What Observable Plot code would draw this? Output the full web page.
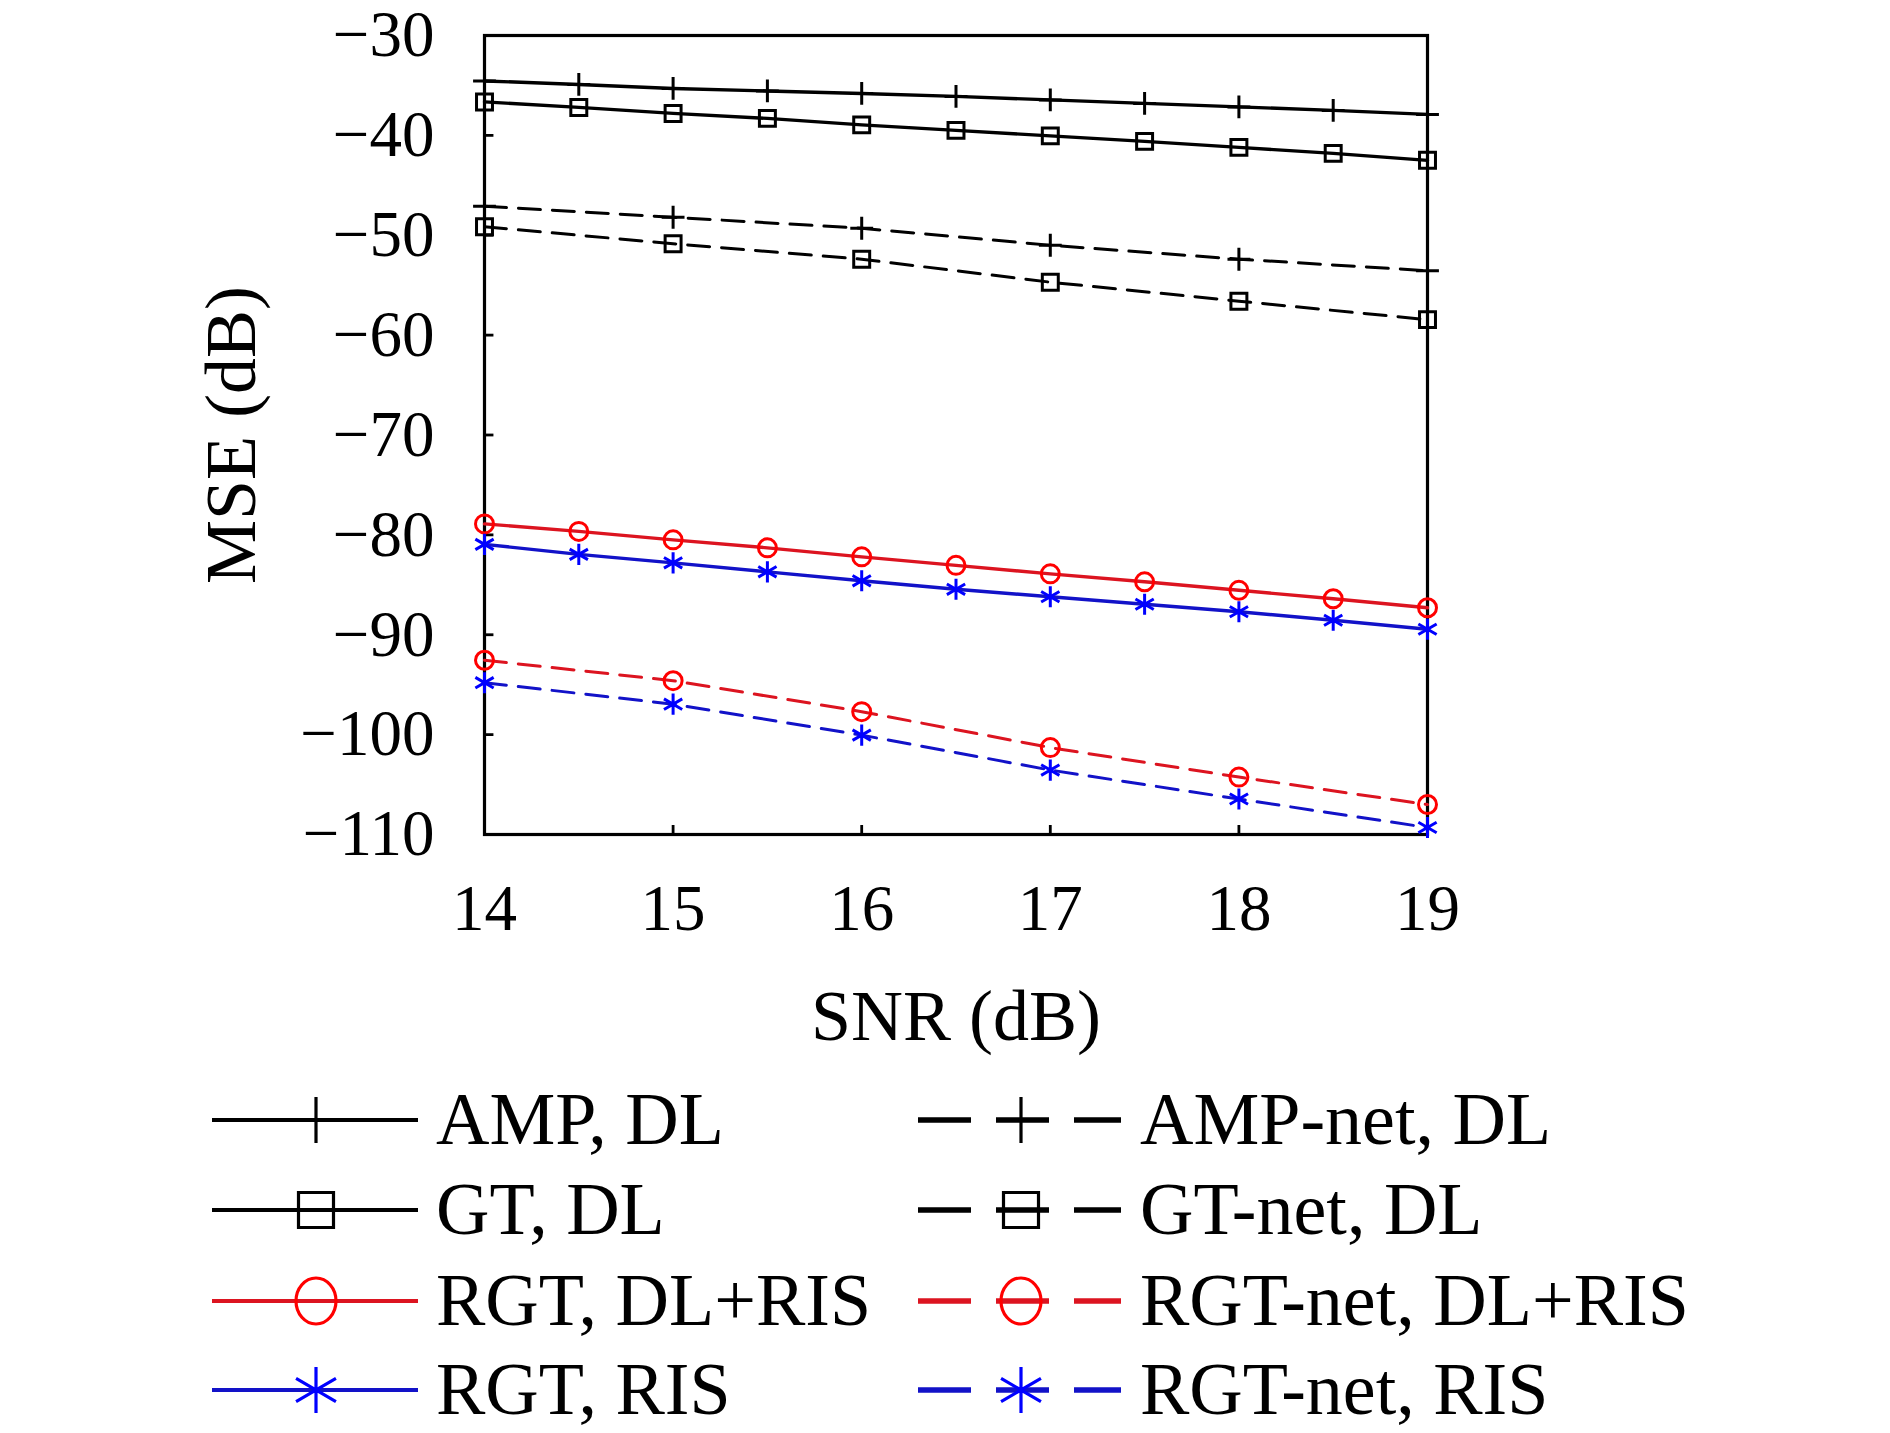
<!DOCTYPE html>
<html>
<head>
<meta charset="utf-8">
<script src="https://cdn.jsdelivr.net/npm/d3@7"></script>
<script src="https://cdn.jsdelivr.net/npm/@observablehq/plot@0.6"></script>
<style>
  html, body { margin: 0; padding: 0; background: #ffffff; }
  #chart { width: 1890px; }
  svg { display: block; }
</style>
</head>
<body>
<div id="chart"></div>
<script>
// ---- data ----
const snrFine = [14, 14.5, 15, 15.5, 16, 16.5, 17, 17.5, 18, 18.5, 19];
const snrCoarse = [14, 15, 16, 17, 18, 19];

const ampDL      = [-34.55, -34.9, -35.3, -35.55, -35.8, -36.1, -36.45, -36.8, -37.15, -37.5, -37.9];
const gtDL       = [-36.65, -37.2, -37.8, -38.3, -38.95, -39.5, -40.05, -40.6, -41.2, -41.8, -42.5];
const rgtDLRIS   = [-78.9, -79.65, -80.5, -81.3, -82.2, -83.05, -83.9, -84.7, -85.55, -86.4, -87.3];
const rgtRIS     = [-80.95, -81.95, -82.8, -83.7, -84.6, -85.45, -86.2, -86.95, -87.7, -88.55, -89.45];

const ampNetDL    = [-47.1, -48.2, -49.3, -51.0, -52.4, -53.55];
const gtNetDL     = [-49.15, -50.85, -52.4, -54.7, -56.6, -58.45];
const rgtNetDLRIS = [-92.55, -94.6, -97.7, -101.3, -104.25, -107.0];
const rgtNetRIS   = [-94.8, -96.95, -100.05, -103.55, -106.45, -109.3];

const xTicks = [14, 15, 16, 17, 18, 19];
const yTicks = [-110, -100, -90, -80, -70, -60, -50, -40, -30];

const seriesNames = ["AMP, DL", "AMP-net, DL", "GT, DL", "GT-net, DL",
                     "RGT, DL+RIS", "RGT-net, DL+RIS", "RGT, RIS", "RGT-net, RIS"];
const xLabel = "SNR (dB)";
const yLabel = "MSE (dB)";

// ---- build tables ----
const tbl = (xs, ys) => xs.map((x, i) => ({x, y: ys[i]}));

const RED_LINE = "#dc1420", RED_MK = "#ff0000";
const BLUE_LINE = "#1212c8", BLUE_MK = "#0000ff";
const DASH = "22,12";

const series = [
  {name: seriesNames[0], data: tbl(snrFine, ampDL),        line: "black",   mk: "black",   symbol: "plus",     r: 7.4, dash: null},
  {name: seriesNames[2], data: tbl(snrFine, gtDL),         line: "black",   mk: "black",   symbol: "square",   r: 9,   dash: null},
  {name: seriesNames[4], data: tbl(snrFine, rgtDLRIS),     line: RED_LINE,  mk: RED_MK,    symbol: "circle",   r: 9,   dash: null},
  {name: seriesNames[6], data: tbl(snrFine, rgtRIS),       line: BLUE_LINE, mk: BLUE_MK,   symbol: "asterisk", r: 10,  dash: null},
  {name: seriesNames[1], data: tbl(snrCoarse, ampNetDL),   line: "black",   mk: "black",   symbol: "plus",     r: 7.4, dash: DASH},
  {name: seriesNames[3], data: tbl(snrCoarse, gtNetDL),    line: "black",   mk: "black",   symbol: "square",   r: 9,   dash: DASH},
  {name: seriesNames[5], data: tbl(snrCoarse, rgtNetDLRIS),line: RED_LINE,  mk: RED_MK,    symbol: "circle",   r: 9,   dash: DASH},
  {name: seriesNames[7], data: tbl(snrCoarse, rgtNetRIS),  line: BLUE_LINE, mk: BLUE_MK,   symbol: "asterisk", r: 10,  dash: DASH}
];

const FONT = "'Liberation Serif', 'Times New Roman', serif";

const marks = [
  Plot.frame({stroke: "black", strokeWidth: 3.2}),
  Plot.ruleY(yTicks, {y: d => d, x1: 14, x2: 14.05, stroke: "black", strokeWidth: 2.8}),
  Plot.ruleX(xTicks, {x: d => d, y1: -110, y2: -109.1, stroke: "black", strokeWidth: 2.8}),
  Plot.axisY(yTicks, {anchor: "left", tickSize: 0, tickPadding: 50, fontSize: 65, label: null, fill: "black"}),
  Plot.axisX(xTicks, {anchor: "bottom", tickSize: 0, tickPadding: 49, fontSize: 65, label: null, fill: "black", tickFormat: d => String(d)}),
  Plot.text([xLabel], {text: d => d, frameAnchor: "bottom", textAnchor: "middle", lineAnchor: "middle", dy: 182, fontSize: 72, fill: "black"}),
  Plot.text([yLabel], {text: d => d, frameAnchor: "left", textAnchor: "middle", lineAnchor: "middle", rotate: -90, dx: -253, fontSize: 72, fill: "black"})
];
for (const s of series) {
  marks.push(Plot.line(s.data, {x: "x", y: "y", stroke: s.line, strokeWidth: s.dash ? 3 : 3.4, strokeDasharray: s.dash ?? undefined}));
}
for (const s of series) {
  marks.push(Plot.dot(s.data, {x: "x", y: "y", symbol: s.symbol, r: s.r, stroke: s.mk, strokeWidth: 3, fill: "none"}));
}

const chart = Plot.plot({
  width: 1890,
  height: 1060,
  marginLeft: 484,
  marginRight: 463,
  marginTop: 35,
  marginBottom: 226,
  style: {fontFamily: FONT, background: "#ffffff", color: "black", overflow: "visible"},
  x: {domain: [14, 19], axis: null},
  y: {domain: [-110, -30], axis: null},
  marks
});
document.getElementById("chart").appendChild(chart);

// ---- legend (below the plot) ----
const legendOrder = [
  [series[0], series[4]],
  [series[1], series[5]],
  [series[2], series[6]],
  [series[3], series[7]]
];
const lg = d3.select("#chart").append("svg")
  .attr("width", 1890).attr("height", 373)
  .style("font-family", FONT).style("background", "#ffffff");
const rowY = [60, 150, 241, 330];
const symSize = {plus: 690, square: 1225, asterisk: 1500};
const symType = {plus: d3.symbolPlus, square: d3.symbolSquare, asterisk: d3.symbolAsterisk};
legendOrder.forEach((pair, ri) => {
  const cy = rowY[ri];
  pair.forEach((s, ci) => {
    const g = lg.append("g");
    const x0 = ci === 0 ? 212 : 918, x1 = ci === 0 ? 418 : 1121;
    const mx = ci === 0 ? 316 : 1021;
    const tx = ci === 0 ? 436 : 1140;
    g.append("line").attr("x1", x0).attr("x2", x1).attr("y1", cy).attr("y2", cy)
      .attr("stroke", s.line).attr("stroke-width", s.dash ? 5.5 : 4)
      .attr("stroke-dasharray", s.dash ? "53,25" : null);
    if (s.symbol === "circle") {
      g.append("ellipse").attr("cx", mx).attr("cy", cy).attr("rx", 20).attr("ry", 23)
        .attr("fill", "none").attr("stroke", s.mk).attr("stroke-width", 3.2);
    } else {
      g.append("path").attr("transform", `translate(${mx},${cy})`)
        .attr("d", d3.symbol(symType[s.symbol], symSize[s.symbol])())
        .attr("fill", "none").attr("stroke", s.mk).attr("stroke-width", 3.2);
    }
    g.append("text").attr("x", tx).attr("y", cy).attr("dy", "0.33em")
      .attr("font-size", 74).attr("fill", "black").text(s.name);
  });
});
</script>
</body>
</html>
